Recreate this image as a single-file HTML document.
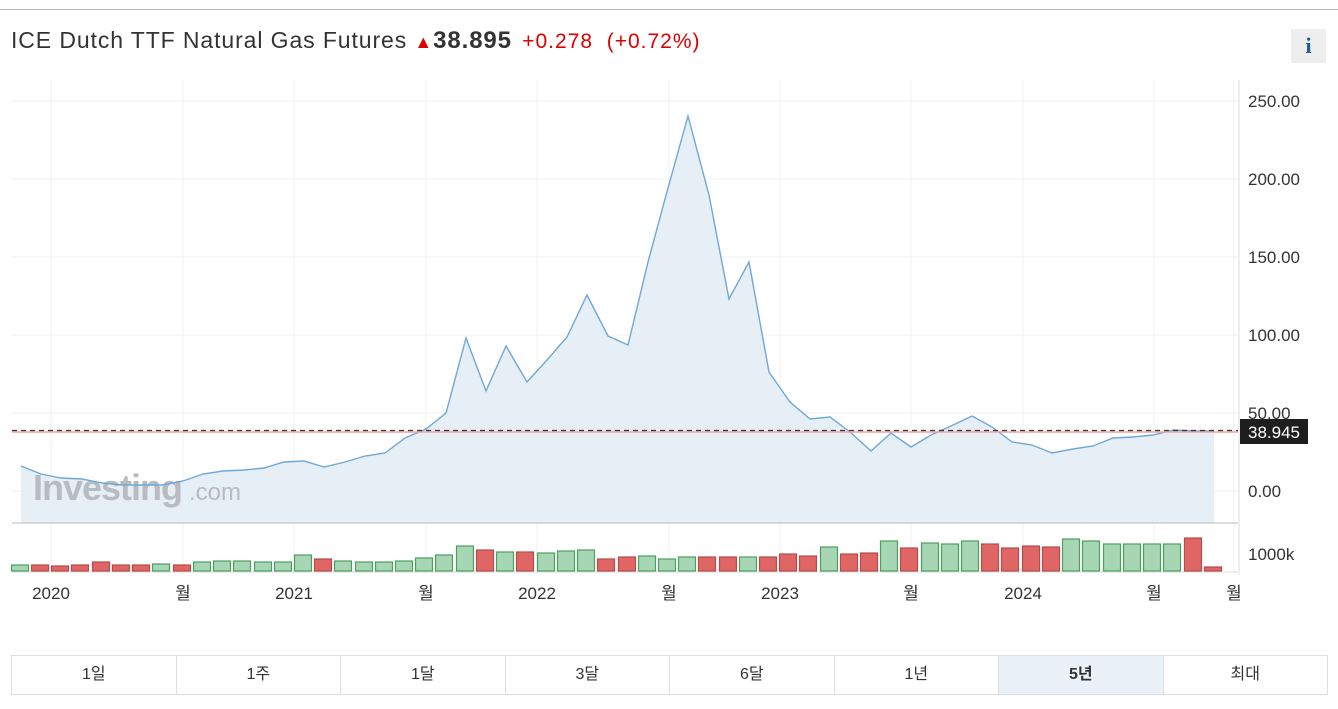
<!DOCTYPE html>
<html><head><meta charset="utf-8"><style>
body{margin:0;width:1338px;height:709px;background:#fff;font-family:"Liberation Sans","Noto Sans CJK KR",sans-serif;overflow:hidden;position:relative}
.t{position:absolute;left:11px;top:27px;font-size:23px;color:#333;white-space:nowrap;letter-spacing:0.9px}
.info{position:absolute;left:1291px;top:29px;width:35px;height:34px;background:#eee;color:#1a5ca8;font:bold 22px "Liberation Serif",serif;text-align:center;line-height:34px}
.btns{position:absolute;left:11px;top:655px;width:1317px;height:40px;display:flex;border:1px solid #ddd;box-sizing:border-box}
.btns div{flex:1;border-right:1px solid #ddd;text-align:center;line-height:38px;font-size:16px;color:#333}
.btns div:last-child{border-right:none}
.btns .s{background:#eaf1f9;font-weight:bold}
</style></head><body>
<div style="position:absolute;left:0;top:9px;width:1338px;height:1px;background:#bbb"></div>
<div class="t">ICE Dutch TTF Natural Gas Futures <span style="color:#d00;font-size:18px">&#9650;</span><b style="font-size:24px">38.895</b> <span style="color:#d00;font-size:21px;margin-left:3px;letter-spacing:1px">+0.278 &nbsp;(+0.72%)</span></div>
<div class="info">i</div>
<svg width="1338" height="640" style="position:absolute;left:0;top:0" font-family="Liberation Sans, Noto Sans CJK KR, sans-serif">
<g stroke="#f0f0f0" stroke-width="1">
<line x1="51" y1="80" x2="51" y2="575"/><line x1="183" y1="80" x2="183" y2="575"/><line x1="294" y1="80" x2="294" y2="575"/><line x1="426" y1="80" x2="426" y2="575"/><line x1="537" y1="80" x2="537" y2="575"/><line x1="669" y1="80" x2="669" y2="575"/><line x1="780" y1="80" x2="780" y2="575"/><line x1="911" y1="80" x2="911" y2="575"/><line x1="1023" y1="80" x2="1023" y2="575"/><line x1="1154" y1="80" x2="1154" y2="575"/><line x1="1234" y1="80" x2="1234" y2="575"/>
<line x1="12" y1="101" x2="1238" y2="101"/><line x1="12" y1="179" x2="1238" y2="179"/><line x1="12" y1="257" x2="1238" y2="257"/><line x1="12" y1="335" x2="1238" y2="335"/><line x1="12" y1="413" x2="1238" y2="413"/><line x1="12" y1="491" x2="1238" y2="491"/>
</g>
<polygon fill="#e3ecf5" fill-opacity="0.9" points="21,523 21,466 41,474 61,478 82,479 102,483 122,485 142,485 162,485 183,481 203,474 223,471 244,470 264,468 284,462 304,461 324,467 345,462 365,456 385,453 405,438 426,429 446,413 466,338 486,391 506,346 527,382 547,360 567,337 587,295 608,336 628,345 648,262 668,188 688,116 709,195 729,299 749,262 769,372 790,402 810,419 830,417 850,432 871,451 891,433 911,447 931,435 951,426 972,416 992,427 1012,442 1032,445 1052,453 1073,449 1093,446 1113,438 1133,437 1153,435 1174,430 1194,431 1214,431 1214,523"/>
<text x="33" y="500" font-size="36" font-weight="bold" fill="#b8bcc0" letter-spacing="-1">Investing</text><text x="189" y="500" font-size="24" fill="#b8bcc0">.com</text>
<polyline fill="none" stroke="#6fa8d6" stroke-width="1.4" points="21,466 41,474 61,478 82,479 102,483 122,485 142,485 162,485 183,481 203,474 223,471 244,470 264,468 284,462 304,461 324,467 345,462 365,456 385,453 405,438 426,429 446,413 466,338 486,391 506,346 527,382 547,360 567,337 587,295 608,336 628,345 648,262 668,188 688,116 709,195 729,299 749,262 769,372 790,402 810,419 830,417 850,432 871,451 891,433 911,447 931,435 951,426 972,416 992,427 1012,442 1032,445 1052,453 1073,449 1093,446 1113,438 1133,437 1153,435 1174,430 1194,431 1214,431"/>
<line x1="12" y1="432" x2="1238" y2="432" stroke="#f2a0a0" stroke-width="1.5"/>
<line x1="12" y1="430.5" x2="1238" y2="430.5" stroke="#333" stroke-width="1.3" stroke-dasharray="5,4"/>
<line x1="12" y1="523" x2="1238" y2="523" stroke="#bbb"/>
<line x1="1239" y1="80" x2="1239" y2="575" stroke="#ddd"/>
<line x1="12" y1="572" x2="1238" y2="572" stroke="#ddd"/>
<g font-size="17" fill="#333">
<text x="1248" y="107">250.00</text><text x="1248" y="185">200.00</text><text x="1248" y="263">150.00</text><text x="1248" y="341">100.00</text><text x="1248" y="419">50.00</text><text x="1248" y="497">0.00</text><text x="1248" y="560">1000k</text>
<text x="51" y="599" text-anchor="middle">2020</text><text x="183" y="599" text-anchor="middle">월</text><text x="294" y="599" text-anchor="middle">2021</text><text x="426" y="599" text-anchor="middle">월</text><text x="537" y="599" text-anchor="middle">2022</text><text x="669" y="599" text-anchor="middle">월</text><text x="780" y="599" text-anchor="middle">2023</text><text x="911" y="599" text-anchor="middle">월</text><text x="1023" y="599" text-anchor="middle">2024</text><text x="1154" y="599" text-anchor="middle">월</text><text x="1234" y="599" text-anchor="middle">월</text>
</g>
<rect x="1240" y="419" width="68" height="25" fill="#1e1e1e"/>
<text x="1274" y="438" font-size="17" fill="#fff" text-anchor="middle">38.945</text>
<g id="vol" stroke-width="1.2"></g>
</svg>
<script>
var b=[[20,'g',565],[40,'r',565],[60,'r',566],[80,'r',565],[101,'r',562],[121,'r',565],[141,'r',565],[161,'g',564],[182,'r',565],[202,'g',562],[222,'g',561],[242,'g',561],[263,'g',562],[283,'g',562],[303,'g',555],[323,'r',559],[343,'g',561],[364,'g',562],[384,'g',562],[404,'g',561],[424,'g',558],[444,'g',555],[465,'g',546],[485,'r',550],[505,'g',552],[525,'r',552],[546,'g',553],[566,'g',551],[586,'g',550],[606,'r',559],[627,'r',557],[647,'g',556],[667,'g',559],[687,'g',557],[707,'r',557],[728,'r',557],[748,'g',557],[768,'r',557],[788,'r',554],[808,'r',556],[829,'g',547],[849,'r',554],[869,'r',553],[889,'g',541],[909,'r',548],[930,'g',543],[950,'g',544],[970,'g',541],[990,'r',544],[1010,'r',548],[1031,'r',546],[1051,'r',547],[1071,'g',539],[1091,'g',541],[1112,'g',544],[1132,'g',544],[1152,'g',544],[1172,'g',544],[1193,'r',538],[1213,'r',567]];
var s='';b.forEach(function(d){var f=d[1]=='g'?'#a6d6b4':'#e06666',st=d[1]=='g'?'#4c9f5f':'#b54c4c';s+='<rect x="'+(d[0]-8.5)+'" y="'+d[2]+'" width="17" height="'+(571-d[2])+'" fill="'+f+'" stroke="'+st+'"/>';});
document.getElementById('vol').innerHTML=s;
</script>
<div class="btns"><div>1일</div><div>1주</div><div>1달</div><div>3달</div><div>6달</div><div>1년</div><div class="s">5년</div><div>최대</div></div>
</body></html>
